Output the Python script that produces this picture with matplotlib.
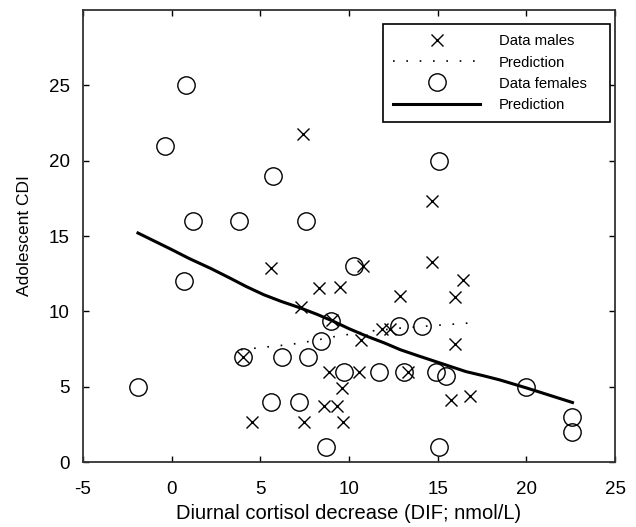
import matplotlib
matplotlib.use("Agg")
import matplotlib.pyplot as plt
import numpy as np

plt.rcParams['font.family'] = ['Liberation Sans', 'DejaVu Sans']
plt.rcParams['axes.unicode_minus'] = False

# males (x markers)
male_x = [4.0, 4.55, 5.6, 7.3, 7.4, 7.45, 8.3, 8.6, 8.9, 9.05, 9.3, 9.5, 9.6,
          9.65, 10.55, 10.65, 10.8, 11.85, 12.3, 12.85, 13.3, 14.7, 14.7,
          15.75, 15.95, 15.95, 16.4, 16.85]
male_y = [7.0, 2.65, 12.9, 10.3, 21.8, 2.65, 11.55, 3.75, 6.0, 9.4, 3.75,
          11.6, 4.9, 2.65, 6.0, 8.1, 13.0, 8.8, 8.85, 11.05, 6.0, 17.35, 13.3,
          4.1, 7.8, 10.95, 12.1, 4.4]

# females (circles)
female_x = [-1.9, -0.4, 0.7, 0.8, 1.2, 3.8, 4.0, 5.6, 5.7, 6.2, 7.2, 7.6, 7.7,
            8.4, 8.7, 9.0, 9.7, 10.3, 11.7, 12.8, 13.1, 14.1, 14.9, 15.1, 15.1,
            15.45, 20.0, 22.6, 22.6]
female_y = [5.0, 21.0, 12.0, 25.0, 16.0, 16.0, 7.0, 4.0, 19.0, 7.0, 4.0, 16.0,
            7.0, 8.0, 1.0, 9.35, 6.0, 13.0, 6.0, 9.0, 6.0, 9.0, 6.0, 20.0, 1.0,
            5.7, 5.0, 3.0, 2.0]

# prediction curves
pred_m_x = [3.9, 5.3, 6.7, 8.0, 9.3, 11.3, 13.0, 14.7, 16.7]
pred_m_y = [7.45, 7.63, 7.8, 8.05, 8.35, 8.7, 8.9, 9.05, 9.22]

pred_f_x = [-1.9, 0.0, 1.0, 2.2, 3.3, 4.2, 5.2, 6.2, 7.2, 8.2, 9.1, 10.0,
            11.0, 12.0, 12.9, 13.9, 14.8, 15.7, 16.6, 17.6, 18.5, 20.0, 22.6]
pred_f_y = [15.2, 14.1, 13.5, 12.85, 12.2, 11.65, 11.1, 10.65, 10.25, 9.8,
            9.35, 8.85, 8.35, 7.9, 7.45, 7.05, 6.7, 6.35, 6.0, 5.72, 5.45,
            4.92, 3.95]

fig = plt.figure(figsize=(6.36, 5.27), dpi=100)
ax = fig.add_axes([0.1305, 0.1233, 0.8365, 0.8577])

ax.plot(male_x, male_y, linestyle='none', marker='x', color='black',
        markersize=8.5, markeredgewidth=1.0, label='Data males')
ax.plot(pred_m_x, pred_m_y, color='black', linewidth=1.2,
        linestyle=(0, (1, 7)), label='Prediction')
ax.plot(female_x, female_y, linestyle='none', marker='o', color='black',
        markerfacecolor='none', markersize=12.5, markeredgewidth=1.0,
        label='Data females')
ax.plot(pred_f_x, pred_f_y, color='black', linewidth=2.2, label='Prediction')

ax.set_xlim(-5, 25)
ax.set_ylim(0, 30)
ax.set_xticks(np.arange(-5, 26, 5))
ax.set_yticks(np.arange(0, 26, 5))
ax.tick_params(direction='in', top=True, right=True, length=4, width=1,
               labelsize=13.5)
ax.tick_params(axis='x', pad=14)
ax.tick_params(axis='y', pad=9.5)
for s in ax.spines.values():
    s.set_linewidth(1.3)
    s.set_color('#333333')

ax.set_xlabel('Diurnal cortisol decrease (DIF; nmol/L)', fontsize=14.5, labelpad=4)
ax.set_ylabel('Adolescent CDI', fontsize=12.5, labelpad=12)

# expand mode leaves the spare width right of the labels, like the original box
leg = ax.legend(loc='upper left', bbox_to_anchor=(0.564, 0.5, 0.4267, 0.469),
                mode='expand', borderaxespad=0, fontsize=10.7, handlelength=5.8,
                handletextpad=1.3, labelspacing=0.48, borderpad=0.7,
                fancybox=False, framealpha=1, edgecolor='black')
leg.get_frame().set_linewidth(1.2)

fig.savefig('out.png', dpi=100)
